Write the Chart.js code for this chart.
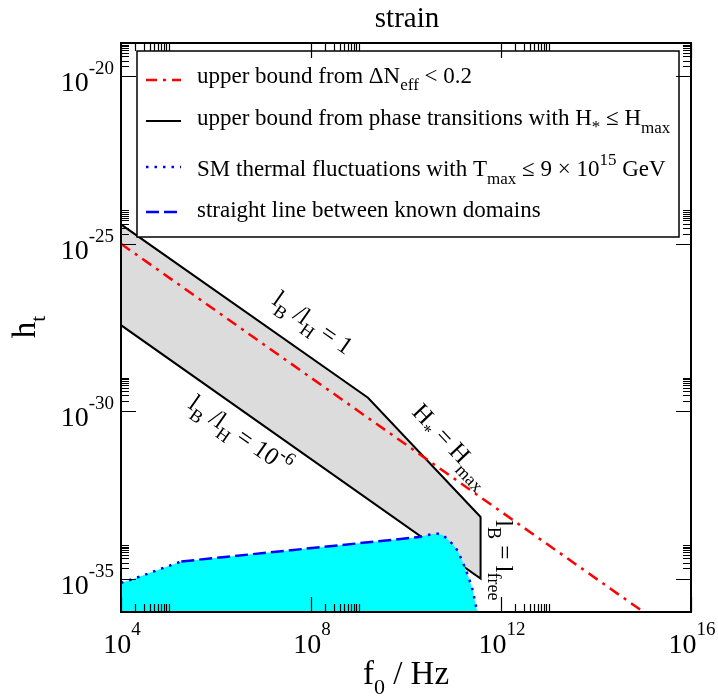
<!DOCTYPE html>
<html>
<head>
<meta charset="utf-8">
<script src="https://cdn.jsdelivr.net/npm/chart.js@4.4.1/dist/chart.umd.min.js"></script>
<style>
  html, body { margin: 0; padding: 0; background: #fff; }
  #wrap { width: 718px; height: 697px; }
</style>
</head>
<body>
<div id="wrap"><canvas id="myChart" width="718" height="697"></canvas></div>
<script>
// all values are log10 exponents
const regionLogF = [4, 9.2, 11.57, 11.57, 4, 4];
const regionLogH = [-24.42, -29.6, -33.16, -35.0, -27.43, -24.42];

const neffLogF = [4, 15];
const neffLogH = [-25, -36];

const thermalLeftLogF = [4.0, 4.22, 4.5, 4.8, 5.27];
const thermalLeftLogH = [-35.13, -35.03, -34.89, -34.73, -34.49];

const thermalRightLogF = [10.29, 10.45, 10.57, 10.67, 10.78, 10.88, 11.0, 11.09, 11.2, 11.31, 11.4, 11.49, 11.51];
const thermalRightLogH = [-33.76, -33.7, -33.67, -33.66, -33.71, -33.83, -34.0, -34.18, -34.53, -34.93, -35.33, -35.93, -36.0];

const xMajorTicks = [1e4, 1e8, 1e12, 1e16];
const yMajorTicks = [1e-35, 1e-30, 1e-25, 1e-20];
const minorSteps = [2, 3, 4, 5, 6, 7, 8, 9, 10];

const toPts = (lf, lh) => lf.map((f, i) => ({ x: 10 ** f, y: 10 ** lh[i] }));

const FONT = '"Liberation Serif", "Times New Roman", serif';
const ctxEl = document.getElementById("myChart").getContext("2d");

// draw text made of pieces: [text, size, dy]
function rich(ctx, parts, x, y, align) {
  let w = 0;
  parts.forEach((p) => {
    ctx.font = `${p[1]}px ${FONT}`;
    w += ctx.measureText(p[0]).width;
  });
  let cx = align === "center" ? x - w / 2 : align === "right" ? x - w : x;
  ctx.textAlign = "left";
  ctx.textBaseline = "alphabetic";
  parts.forEach((p) => {
    ctx.font = `${p[1]}px ${FONT}`;
    ctx.fillText(p[0], cx, y + (p[2] || 0));
    cx += ctx.measureText(p[0]).width;
  });
}

function rotated(ctx, parts, x, y, deg) {
  ctx.save();
  ctx.translate(x, y);
  ctx.rotate((deg * Math.PI) / 180);
  rich(ctx, parts, 0, 0, "left");
  ctx.restore();
}

const RED_DASH = [11, 6, 3, 6];

const legendRows = [
  { color: "red", dash: RED_DASH, width: 2.5, y: 80, base: 83,
    text: [["upper bound from ΔN", 23], ["eff", 17, 7], [" < 0.2", 23]] },
  { color: "black", dash: [], width: 2, y: 121, base: 125,
    text: [["upper bound from phase transitions with H", 23], ["*", 17, 7], [" ≤ H", 23], ["max", 17, 8]] },
  { color: "blue", dash: [2.5, 6], width: 2.5, y: 167, base: 176,
    text: [["SM thermal fluctuations with T", 23], ["max", 17, 8], [" ≤ 9 × 10", 23], ["15", 17, -11], [" GeV", 23]] },
  { color: "blue", dash: [13, 5], width: 2.5, y: 212, base: 217,
    text: [["straight line between known domains", 23]] },
];

const decor = {
  id: "decor",
  afterDatasetsDraw(chart) {
    const ctx = chart.ctx;
    const a = chart.chartArea;
    const xs = chart.scales.x;
    const ys = chart.scales.y;
    ctx.save();
    ctx.fillStyle = "black";

    // annotations
    rotated(ctx, [["l", 25], ["B", 18, 8], [" /", 25], ["l", 25], ["H", 18, 8], [" = 1", 25]], 271, 303, 35);
    rotated(ctx, [["l", 25], ["B", 18, 8], [" /", 25], ["l", 25], ["H", 18, 8], [" = 10", 25], ["-6", 18, -11]], 187, 407, 35);
    rotated(ctx, [["H", 25], ["*", 18, 7], [" = H", 25], ["max", 18, 8]], 411, 413, 46.7);
    rotated(ctx, [["l", 25], ["B", 18, 8], [" = l", 25], ["free", 18, 8]], 496, 520, 90);

    // legend box
    ctx.fillStyle = "white";
    ctx.fillRect(137, 51, 542, 186);
    ctx.strokeStyle = "black";
    ctx.lineWidth = 1.5;
    ctx.strokeRect(137, 51, 542, 186);
    legendRows.forEach((r) => {
      ctx.beginPath();
      ctx.strokeStyle = r.color;
      ctx.lineWidth = r.width;
      ctx.setLineDash(r.dash);
      ctx.moveTo(146, r.y);
      ctx.lineTo(181, r.y);
      ctx.stroke();
      ctx.setLineDash([]);
      ctx.fillStyle = "black";
      rich(ctx, r.text, 197, r.base, "left");
    });

    // ticks on all four sides, pointing in
    ctx.strokeStyle = "black";
    ctx.lineWidth = 1.2;
    const tickX = (v, len) => {
      const px = Math.round(xs.getPixelForValue(v)) + 0.5;
      if (px < a.left - 1 || px > a.right + 1) return;
      ctx.beginPath();
      ctx.moveTo(px, a.bottom); ctx.lineTo(px, a.bottom - len);
      ctx.moveTo(px, a.top); ctx.lineTo(px, a.top + len);
      ctx.stroke();
    };
    const tickY = (v, len) => {
      const py = Math.round(ys.getPixelForValue(v)) + 0.5;
      if (py < a.top - 1 || py > a.bottom + 1) return;
      ctx.beginPath();
      ctx.moveTo(a.left, py); ctx.lineTo(a.left + len, py);
      ctx.moveTo(a.right, py); ctx.lineTo(a.right - len, py);
      ctx.stroke();
    };
    xMajorTicks.forEach((v) => {
      tickX(v, 15);
      minorSteps.forEach((m) => tickX(v * m, 8));
    });
    yMajorTicks.forEach((v) => {
      tickY(v, 15);
      minorSteps.forEach((m) => tickY(v * m, 8));
    });

    // frame
    ctx.lineWidth = 2;
    ctx.strokeRect(a.left, a.top, a.right - a.left, a.bottom - a.top);

    // tick labels
    ctx.fillStyle = "black";
    xMajorTicks.forEach((v) => {
      const px = xs.getPixelForValue(v);
      rich(ctx, [["10", 28], [String(Math.round(Math.log10(v))), 19, -18]], px + 1, a.bottom + 41, "center");
    });
    yMajorTicks.forEach((v) => {
      const py = ys.getPixelForValue(v);
      rich(ctx, [["10", 28], [String(Math.round(Math.log10(v))), 19, -17]], a.left - 7, py + 15, "right");
    });

    // axis titles and chart title
    rich(ctx, [["f", 33], ["0", 22, 10], [" / Hz", 33]], (a.left + a.right) / 2, 684, "center");
    ctx.save();
    ctx.translate(35, 327);
    ctx.rotate(-Math.PI / 2);
    rich(ctx, [["h", 33], ["t", 22, 10]], 0, 0, "center");
    ctx.restore();
    rich(ctx, [["strain", 29]], (a.left + a.right) / 2 + 1, 27, "center");

    ctx.restore();
  },
};

const dataChart = {
  datasets: [
    {
      label: "upper bound from ΔNeff < 0.2",
      data: toPts(neffLogF, neffLogH),
      borderColor: "red",
      borderWidth: 2.5,
      borderDash: RED_DASH,
      fill: false,
      order: 2,
    },
    {
      label: "upper bound from phase transitions with H* ≤ Hmax",
      data: toPts(regionLogF, regionLogH),
      borderColor: "black",
      borderWidth: 2,
      backgroundColor: "rgb(220,220,220)",
      fill: "shape",
      order: 3,
    },
    {
      label: "straight line between known domains",
      data: toPts(
        [thermalLeftLogF[thermalLeftLogF.length - 1], thermalRightLogF[0]],
        [thermalLeftLogH[thermalLeftLogH.length - 1], thermalRightLogH[0]]
      ),
      borderColor: "blue",
      borderWidth: 2.5,
      borderDash: [13, 5],
      fill: false,
      order: 0,
    },
    {
      label: "SM thermal fluctuations with Tmax ≤ 9 × 10^15 GeV",
      data: [...toPts(thermalLeftLogF, thermalLeftLogH), { x: 1e8, y: null }, ...toPts(thermalRightLogF, thermalRightLogH)],
      borderColor: "blue",
      borderWidth: 2.5,
      borderDash: [2.5, 6],
      spanGaps: false,
      fill: false,
      order: 1,
    },
    {
      label: "thermal region",
      data: [...toPts(thermalLeftLogF, thermalLeftLogH), ...toPts(thermalRightLogF, thermalRightLogH)],
      borderWidth: 0,
      borderColor: "rgba(0,0,0,0)",
      backgroundColor: "cyan",
      fill: "start",
      order: 1.5,
    },
  ],
};

const configChart = {
  type: "line",
  data: dataChart,
  options: {
    responsive: false,
    animation: false,
    layout: { padding: { left: 121, top: 43, right: 27, bottom: 85 } },
    elements: { point: { radius: 0 }, line: { tension: 0 } },
    plugins: {
      legend: { display: false },
      tooltip: { enabled: false },
    },
    scales: {
      x: { type: "logarithmic", min: 1e4, max: 1e16, display: false },
      y: { type: "logarithmic", min: 1e-36, max: 1e-19, display: false },
    },
  },
  plugins: [decor],
};

new Chart(ctxEl, configChart);
</script>
</body>
</html>
